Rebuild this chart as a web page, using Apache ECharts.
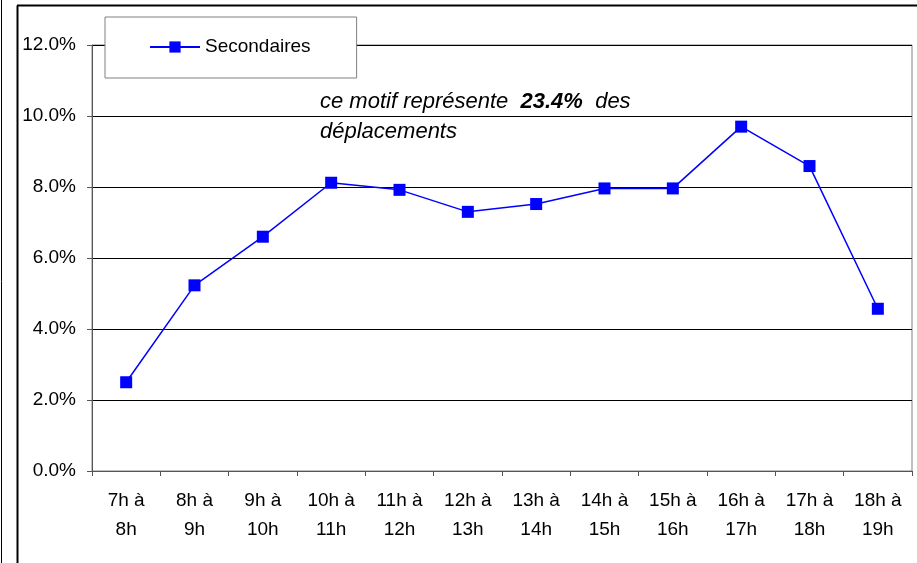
<!DOCTYPE html>
<html>
<head>
<meta charset="utf-8">
<script src="https://cdn.jsdelivr.net/npm/echarts@6/dist/echarts.min.js"></script>
<style>
  html, body { margin: 0; padding: 0; background: #fff; }
  #chart { width: 917px; height: 563px; }
</style>
</head>
<body>
<div id="chart"></div>
<script>
// tranches horaires
var categories = ['7h à\n8h', '8h à\n9h', '9h à\n10h', '10h à\n11h', '11h à\n12h', '12h à\n13h',
  '13h à\n14h', '14h à\n15h', '15h à\n16h', '16h à\n17h', '17h à\n18h', '18h à\n19h']
// part des déplacements secondaires (%)
var secondaires = [2.5, 5.23, 6.6, 8.12, 7.92, 7.3, 7.52, 7.96, 7.96, 9.7, 8.59, 4.57]
var seriesName = 'Secondaires'

var font = 'Arial, "Liberation Sans", sans-serif'
var chart = echarts.init(document.getElementById('chart'))

chart.setOption({
  backgroundColor: '#fff',
  animation: false,
  textStyle: { fontFamily: font },
  grid: {
    left: 92,
    right: 5,
    top: 45,
    bottom: 92,
    show: true,
    borderColor: '#808080',
    borderWidth: 1
  },
  legend: {
    left: 105,
    top: 17,
    orient: 'vertical',
    backgroundColor: '#fff',
    borderColor: '#808080',
    borderWidth: 1,
    padding: [18, 46, 19, 44],
    itemWidth: 50,
    itemHeight: 14,
    itemGap: 0,
    textStyle: { fontSize: 19, color: '#000', fontFamily: font, lineHeight: 24 },
    data: [seriesName]
  },
  xAxis: {
    type: 'category',
    data: categories,
    boundaryGap: true,
    axisLine: { lineStyle: { color: '#555', width: 1 } },
    axisTick: { show: true, inside: false, length: 5, lineStyle: { color: '#555' } },
    axisLabel: {
      interval: 0,
      margin: 15,
      fontSize: 19,
      lineHeight: 29,
      color: '#000',
      fontFamily: font
    },
    splitLine: { show: false }
  },
  yAxis: {
    type: 'value',
    min: 0,
    max: 12,
    interval: 2,
    axisLine: { show: true, lineStyle: { color: '#555', width: 1 } },
    axisTick: { show: true, inside: false, length: 5, lineStyle: { color: '#555' } },
    axisLabel: {
      margin: 16,
      fontSize: 19,
      color: '#000',
      fontFamily: font,
      formatter: function (v) { return v.toFixed(1) + '%' }
    },
    splitLine: { show: true, lineStyle: { color: '#000', width: 1 } }
  },
  graphic: [
    { type: 'line', shape: { x1: 1.5, y1: 0, x2: 1.5, y2: 563 }, style: { stroke: '#000', lineWidth: 1 } },
    { type: 'line', shape: { x1: 17.5, y1: 5.5, x2: 17.5, y2: 563 }, style: { stroke: '#000', lineWidth: 2 } },
    { type: 'line', shape: { x1: 17, y1: 5.5, x2: 917, y2: 5.5 }, style: { stroke: '#000', lineWidth: 2 } },
    {
      type: 'text',
      left: 320,
      top: 91,
      z: 10,
      style: {
        text: '{i|ce motif représente  }{b|23.4%}{i|  des}\n{i|déplacements}',
        rich: {
          i: { fontSize: 22, fontStyle: 'italic', fontFamily: font, fill: '#000', lineHeight: 30 },
          b: { fontSize: 22, fontStyle: 'italic', fontWeight: 'bold', fontFamily: font, fill: '#000', lineHeight: 30 }
        }
      }
    }
  ],
  series: [
    {
      name: seriesName,
      type: 'line',
      data: secondaires,
      symbol: 'rect',
      symbolSize: 12,
      lineStyle: { color: '#0000ff', width: 1.5 },
      itemStyle: { color: '#0000ff' }
    }
  ]
})
</script>
</body>
</html>
